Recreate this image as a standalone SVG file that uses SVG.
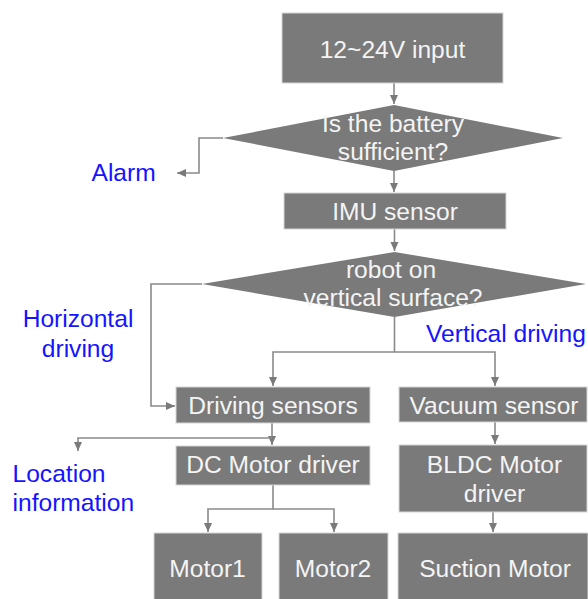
<svg xmlns="http://www.w3.org/2000/svg" width="588" height="599" viewBox="0 0 588 599">
<style>
.box{fill:#7a7a7a;stroke:#d6d6d6;stroke-width:1}
.t{font-family:"Liberation Sans",Arial,sans-serif;font-size:24.6px;fill:#f4f4f4;text-anchor:middle}
.lbl{font-family:"Liberation Sans",Arial,sans-serif;font-size:24.6px;fill:#1414ff}
.c{fill:none;stroke:#8a8a8a;stroke-width:1.6}
</style>
<defs>
<marker id="ah" markerUnits="userSpaceOnUse" markerWidth="10" markerHeight="10" viewBox="0 0 10 10" refX="9" refY="5" orient="auto">
<path d="M0,1 L9,5 L0,9 Z" fill="#7a7a7a"/>
</marker>
</defs>
<rect width="588" height="599" fill="#ffffff"/>
<g id="connectors">
<path class="c" d="M394 83 V104" marker-end="url(#ah)"/>
<path class="c" d="M223 138 H199 V173 H177" marker-end="url(#ah)"/>
<path class="c" d="M394 171 V192" marker-end="url(#ah)"/>
<path class="c" d="M394.5 229 V251" marker-end="url(#ah)"/>
<path class="c" d="M202 284 H151 V406 H175" marker-end="url(#ah)"/>
<path class="c" d="M394.5 317 V352 H273 V386" marker-end="url(#ah)"/>
<path class="c" d="M394.5 352 H495 V386" marker-end="url(#ah)"/>
<path class="c" d="M272 423 V445" marker-end="url(#ah)"/>
<path class="c" d="M272 438 H78 V451" marker-end="url(#ah)"/>
<path class="c" d="M495 422 V444" marker-end="url(#ah)"/>
<path class="c" d="M273 485 V509 H208 V532" marker-end="url(#ah)"/>
<path class="c" d="M273 509 H334 V532" marker-end="url(#ah)"/>
<path class="c" d="M493 512 V532" marker-end="url(#ah)"/>
</g>
<g id="input">
<rect class="box" x="282" y="13" width="221" height="70"/>
<text class="t" x="392.5" y="58">12~24V input</text>
</g>
<g id="battery">
<polygon points="394,105 563,138 394,171 223,138" fill="#7a7a7a"/>
<text class="t" x="393" y="132">Is the battery</text>
<text class="t" x="393" y="160">sufficient?</text>
</g>
<g id="alarm">
<text class="lbl" x="91.5" y="181">Alarm</text>
</g>
<g id="imu">
<rect class="box" x="284" y="193" width="222" height="36"/>
<text class="t" x="395" y="220">IMU sensor</text>
</g>
<g id="vertical">
<polygon points="394.5,252 586,284 394.5,317 202,284" fill="#7a7a7a"/>
<text class="t" x="391" y="278">robot on</text>
<text class="t" x="393" y="306">vertical surface?</text>
</g>
<g id="horizontal-label">
<text class="lbl" x="78" y="327" text-anchor="middle">Horizontal</text>
<text class="lbl" x="78" y="357" text-anchor="middle">driving</text>
</g>
<g id="vertical-label">
<text class="lbl" x="426" y="342">Vertical driving</text>
</g>
<g id="driving-sensors">
<rect class="box" x="176" y="387" width="194" height="36"/>
<text class="t" x="273" y="414">Driving sensors</text>
</g>
<g id="vacuum-sensor">
<rect class="box" x="399" y="387" width="188" height="35"/>
<text class="t" x="494" y="414">Vacuum sensor</text>
</g>
<g id="location">
<text class="lbl" x="12.5" y="482">Location</text>
<text class="lbl" x="12.5" y="511">information</text>
</g>
<g id="dc-driver">
<rect class="box" x="176" y="446" width="194" height="39"/>
<text class="t" x="273" y="473">DC Motor driver</text>
</g>
<g id="bldc-driver">
<rect class="box" x="399" y="445" width="188" height="67"/>
<text class="t" x="494.5" y="473">BLDC Motor</text>
<text class="t" x="494.5" y="502">driver</text>
</g>
<g id="motor1">
<rect class="box" x="154" y="533" width="108" height="70"/>
<text class="t" x="207.5" y="577">Motor1</text>
</g>
<g id="motor2">
<rect class="box" x="279" y="533" width="109" height="70"/>
<text class="t" x="333" y="577">Motor2</text>
</g>
<g id="suction">
<rect class="box" x="398" y="533" width="190" height="70"/>
<text class="t" x="495" y="577">Suction Motor</text>
</g>
</svg>
